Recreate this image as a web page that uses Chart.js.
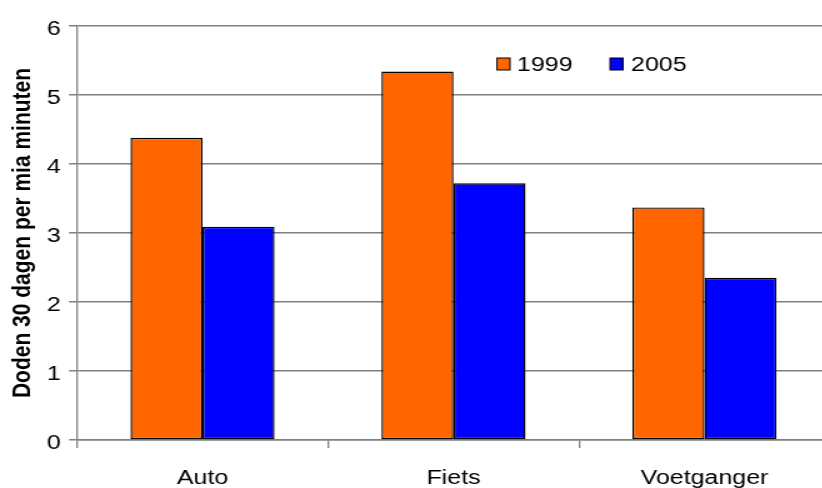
<!DOCTYPE html>
<html>
<head>
<meta charset="utf-8">
<script src="https://cdn.jsdelivr.net/npm/chart.js@4.4.0/dist/chart.umd.min.js"></script>
<style>
  html, body { margin: 0; padding: 0; background: #fff; overflow: hidden; }
  /* the chart is drawn on a narrow canvas and widened horizontally */
  #wrap { position: relative; width: 680px; height: 510px; transform: scaleX(1.25); transform-origin: 0 0; }
  #chart { width: 680px; height: 510px; display: block; }
</style>
</head>
<body>
<div id="wrap"><canvas id="chart" width="680" height="510"></canvas></div>
<script>
// Verkeersdoden (30 dagen) per miljard reisminuten, per vervoerswijze
const categories = ['Auto', 'Fiets', 'Voetganger'];
const seriesNames = ['1999', '2005'];
const values1999 = [4.38, 5.34, 3.37];
const values2005 = [3.09, 3.72, 2.35];
const yTicks = [0, 1, 2, 3, 4, 5, 6];

const FONT = '"Liberation Sans", Arial, sans-serif';
const colors = ['#FF6600', '#0000FF'];
const gridGrey = '#808080';

// Legend drawn inside the plot area, built from the datasets
const innerLegend = {
  id: 'innerLegend',
  afterDraw(chart) {
    const ctx = chart.ctx;
    const pos = [{ box: 397.6, text: 413.6 }, { box: 488, text: 504.8 }];
    const y = 64;
    ctx.save();
    ctx.font = '20px ' + FONT;
    ctx.textBaseline = 'middle';
    chart.data.datasets.forEach((ds, i) => {
      ctx.fillStyle = ds.backgroundColor;
      ctx.fillRect(pos[i].box, y - 6, 10.4, 12);
      ctx.strokeStyle = '#000';
      ctx.lineWidth = 1;
      ctx.strokeRect(pos[i].box, y - 6, 10.4, 12);
      ctx.fillStyle = '#000';
      ctx.fillText(ds.label, pos[i].text, y + 1);
    });
    ctx.restore();
  }
};

new Chart(document.getElementById('chart'), {
  type: 'bar',
  data: {
    labels: categories,
    datasets: [
      { label: seriesNames[0], data: values1999, backgroundColor: colors[0] },
      { label: seriesNames[1], data: values2005, backgroundColor: colors[1] }
    ]
  },
  options: {
    responsive: false,
    animation: false,
    events: [],
    layout: { padding: { top: 26, right: 16, left: 0, bottom: 0 } },
    datasets: {
      bar: {
        categoryPercentage: 0.574,
        barPercentage: 1.0,
        borderColor: '#000',
        borderWidth: 1.4,
        borderSkipped: false
      }
    },
    plugins: {
      legend: { display: false },
      tooltip: { enabled: false }
    },
    scales: {
      x: {
        offset: true,
        grid: {
          offset: true,
          drawOnChartArea: false,
          drawTicks: true,
          tickLength: 8,
          color: gridGrey,
          lineWidth: 1.3
        },
        border: { color: gridGrey, width: 1.5 },
        ticks: { color: '#000', font: { family: FONT, size: 20 }, padding: 18, maxRotation: 0 },
        afterFit(scale) { scale.height = 70; }
      },
      y: {
        min: 0,
        max: 6,
        afterBuildTicks(scale) { scale.ticks = yTicks.map(v => ({ value: v })); },
        grid: {
          color: gridGrey,
          lineWidth: 1.5,
          drawTicks: true,
          tickLength: 6.4
        },
        border: { color: gridGrey, width: 1.3 },
        ticks: { color: '#000', font: { family: FONT, size: 20 }, padding: 6.5, labelOffset: 3 },
        title: {
          display: true,
          text: 'Doden 30 dagen per mia minuten',
          color: '#000',
          font: { family: FONT, size: 21, weight: 'bold' },
          padding: { top: 6, bottom: 0 }
        },
        afterFit(scale) { scale.width = 61.6; }
      }
    }
  },
  plugins: [innerLegend]
});
</script>
</body>
</html>
